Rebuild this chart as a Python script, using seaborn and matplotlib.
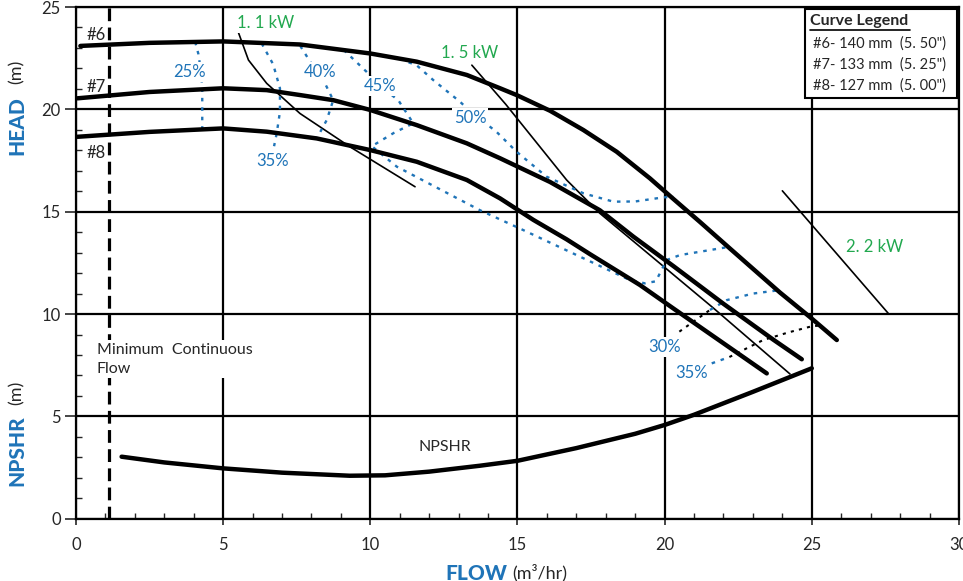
import pandas as pd
import matplotlib.pyplot as plt
import matplotlib.patches as mpatches
from matplotlib.ticker import MultipleLocator
import seaborn as sns

# Head curves (flow m3/hr, head m)
head6_x = [0.15, 2.5, 5.0, 7.61, 10.0, 11.58, 13.28, 14.41, 14.97, 16.11, 17.24, 18.37, 19.5, 20.3, 21.2, 22.22, 23.92, 24.94, 25.85]
head6_y = [23.10, 23.25, 23.32, 23.17, 22.73, 22.33, 21.68, 21.03, 20.7, 19.93, 18.99, 17.93, 16.63, 15.62, 14.5, 13.2, 11.05, 9.85, 8.73]
head7_x = [0.05, 2.5, 5.0, 6.48, 7.61, 8.74, 10.0, 11.58, 13.28, 14.41, 16.11, 17.8, 18.94, 20.3, 22.0, 23.69, 24.66]
head7_y = [20.54, 20.85, 21.03, 20.94, 20.7, 20.45, 19.97, 19.23, 18.34, 17.61, 16.45, 15.07, 13.78, 12.34, 10.5, 8.75, 7.79]
head8_x = [0.05, 2.5, 5.0, 6.48, 8.18, 10.0, 11.58, 13.28, 14.41, 15.54, 16.67, 17.47, 19.16, 20.3, 22.0, 23.47]
head8_y = [18.66, 18.9, 19.07, 18.91, 18.58, 18.01, 17.44, 16.55, 15.65, 14.6, 13.65, 12.92, 11.42, 10.27, 8.57, 7.1]

npshr_x = [1.55, 3.0, 5.0, 7.0, 9.3, 10.5, 12.0, 13.73, 15.0, 17.0, 19.0, 20.0, 21.0, 23.0, 25.0]
npshr_y = [3.03, 2.75, 2.46, 2.25, 2.1, 2.12, 2.3, 2.59, 2.83, 3.45, 4.15, 4.58, 5.08, 6.2, 7.35]

# Power lines
kw11_x = [5.48, 5.86, 6.48, 7.61, 9.31, 11.52]
kw11_y = [23.91, 22.41, 21.27, 19.8, 18.17, 16.22]
kw15_x = [13.45, 14.6, 16.67, 17.8, 19.16, 21.65, 24.26]
kw15_y = [22.16, 20.25, 16.55, 14.92, 13.29, 10.3, 7.07]
kw22_x = [24.0, 27.6]
kw22_y = [16.02, 10.03]

# Efficiency curves
eff25_x = [4.05, 4.16, 4.25, 4.29, 4.29]
eff25_y = [23.3, 22.7, 21.8, 21.05, 19.0]
eff35_x = [6.31, 6.7, 6.93, 6.93, 6.82, 6.73]
eff35_y = [23.22, 22.2, 21.03, 19.88, 18.83, 18.2]
eff40_x = [7.62, 8.1, 8.46, 8.74, 8.52, 8.18]
eff40_y = [23.1, 22.0, 21.27, 20.45, 19.48, 18.58]
eff45_x = [9.1, 9.87, 10.33, 10.95, 11.46, 10.8, 10.05, 10.9, 13.73, 15.2, 17.13, 18.82, 19.33, 19.7, 19.95, 20.07, 20.52, 22.22]
eff45_y = [22.9, 21.84, 21.14, 20.45, 19.32, 18.85, 18.2, 17.2, 15.07, 14.1, 12.8, 11.66, 11.5, 11.6, 12.3, 12.64, 12.88, 13.29]
eff50_x = [11.3, 11.57, 12.14, 13.05, 13.4, 14.29, 14.97, 15.99, 17.24, 18.26, 19.0, 19.95, 20.3]
eff50_y = [22.3, 22.16, 21.43, 20.37, 19.9, 18.9, 17.93, 16.71, 15.9, 15.49, 15.5, 15.7, 15.73]
eff30r_x = [20.5, 21.0, 21.54, 22.11, 23.0, 23.92]
eff30r_y = [9.14, 9.65, 10.2, 10.68, 11.0, 11.17]
eff35r_x = [21.6, 22.2, 22.67, 23.35, 24.2, 24.94, 25.3]
eff35r_y = [7.59, 7.9, 8.24, 8.73, 9.1, 9.38, 9.45]

min_flow = 1.13

legend_lines = ['#6- 140 mm  (5. 50")', '#7- 133 mm  (5. 25")', '#8- 127 mm  (5. 00")']

blue = '#1f74b8'
green = '#22a84f'

sns.set_style("ticks")
plt.rcParams['font.family'] = ['Lato', 'DejaVu Sans']

fig = plt.figure(figsize=(9.63, 5.81), dpi=100)
ax = fig.add_axes([0.0789, 0.1072, 0.9169, 0.8807])


def long_df(curves):
    rows = []
    for name, xs, ys in curves:
        for i, (x, y) in enumerate(zip(xs, ys)):
            rows.append({'curve': name, 'order': i, 'flow': x, 'head': y})
    return pd.DataFrame(rows)


heads = long_df([('#6', head6_x, head6_y), ('#7', head7_x, head7_y),
                 ('#8', head8_x, head8_y), ('NPSHR', npshr_x, npshr_y)])
sns.lineplot(data=heads, x='flow', y='head', units='curve', estimator=None,
             sort=False, color='black', lw=3.2, ax=ax, legend=False,
             solid_capstyle='round', solid_joinstyle='round', zorder=4)

power = long_df([('1.1', kw11_x, kw11_y), ('1.5', kw15_x, kw15_y), ('2.2', kw22_x, kw22_y)])
sns.lineplot(data=power, x='flow', y='head', units='curve', estimator=None,
             sort=False, color='black', lw=1.2, ax=ax, legend=False, zorder=3)

dots = (0, (1.5, 2.5))
eff = long_df([('25', eff25_x, eff25_y), ('35', eff35_x, eff35_y), ('40', eff40_x, eff40_y),
               ('45', eff45_x, eff45_y), ('50', eff50_x, eff50_y),
               ('30r', eff30r_x[2:], eff30r_y[2:]), ('35r', eff35r_x[:2], eff35r_y[:2])])
sns.lineplot(data=eff, x='flow', y='head', units='curve', estimator=None,
             sort=False, color=blue, lw=1.7, ax=ax, legend=False, linestyle=dots, zorder=3)
eff_k = long_df([('30r', eff30r_x[:3], eff30r_y[:3]), ('35r', eff35r_x[1:], eff35r_y[1:])])
sns.lineplot(data=eff_k, x='flow', y='head', units='curve', estimator=None,
             sort=False, color='black', lw=1.5, ax=ax, legend=False, linestyle=dots, zorder=3)

ax.plot([min_flow, min_flow], [0, 25], color='black', lw=2.3, linestyle=(0, (4, 2)), zorder=4)

# axes, grid, ticks
ax.set_xlim(0, 30)
ax.set_ylim(0, 25)
ax.xaxis.set_major_locator(MultipleLocator(5))
ax.yaxis.set_major_locator(MultipleLocator(5))
ax.xaxis.set_minor_locator(MultipleLocator(1))
ax.yaxis.set_minor_locator(MultipleLocator(1))
ax.grid(True, which='major', color='black', lw=1.6)
ax.set_axisbelow(True)
for s in ax.spines.values():
    s.set_color('black')
    s.set_linewidth(1.6)
ax.tick_params(axis='x', which='major', direction='out', length=4, width=1.2, pad=9, labelsize=12)
ax.tick_params(axis='y', which='major', direction='out', length=8, width=1.2, pad=3, labelsize=12)
ax.tick_params(which='minor', direction='in', length=4, width=1.0)
ax.set_xlabel('')
ax.set_ylabel('')

box = dict(facecolor='white', edgecolor='none', pad=1.5)

# curve labels
for txt, x, y in [('#6', 0.68, 23.63), ('#7', 0.68, 21.11), ('#8', 0.68, 17.86)]:
    ax.text(x, y, txt, fontsize=12, ha='center', va='center', zorder=6)

for txt, x, y in [('25%', 3.87, 21.82), ('35%', 6.68, 17.49), ('40%', 8.29, 21.84),
                  ('45%', 10.33, 21.14), ('50%', 13.39, 19.6), ('30%', 20.0, 8.38),
                  ('35%', 20.92, 7.1)]:
    ax.text(x, y, txt, fontsize=12, color=blue, ha='center', va='center', bbox=box, zorder=6)

for txt, x, y in [('1. 1 kW', 6.46, 24.22), ('1. 5 kW', 13.39, 22.75), ('2. 2 kW', 27.12, 13.28)]:
    ax.text(x, y, txt, fontsize=12, color=green, ha='center', va='center', bbox=box, zorder=6)

ax.text(0.71, 7.8, 'Minimum  Continuous\nFlow', fontsize=11.5, ha='left', va='center',
        linespacing=1.45, bbox=dict(facecolor='white', edgecolor='none', pad=2), zorder=6)
ax.text(12.54, 3.52, 'NPSHR', fontsize=11.5, ha='center', va='center', zorder=6)

# legend box
ax.add_patch(mpatches.Rectangle((24.77, 20.54), 5.17, 4.35, facecolor='white',
                                edgecolor='black', lw=1.5, zorder=7))
ax.text(24.94, 24.31, 'Curve Legend', fontsize=11.5, fontweight='bold', ha='left', va='center', zorder=8)
ax.plot([24.94, 28.34], [23.88, 23.88], color='black', lw=1.2, zorder=8)
for i, line in enumerate(legend_lines):
    ax.text(25.05, [23.22, 22.2, 21.14][i], line, fontsize=10.5, ha='left', va='center', zorder=8)

# axis titles
fig.text(17 / 963, 1 - 126 / 581, 'HEAD', rotation=90, color=blue, fontsize=15,
         fontweight='black', ha='center', va='center')
fig.text(17 / 963, 1 - 72 / 581, '(m)', rotation=90, fontsize=13, ha='center', va='center')
fig.text(17 / 963, 1 - 451 / 581, 'NPSHR', rotation=90, color=blue, fontsize=15,
         fontweight='black', ha='center', va='center')
fig.text(17 / 963, 1 - 393 / 581, '(m)', rotation=90, fontsize=13, ha='center', va='center')
fig.text(507 / 963, 1 - 573 / 581, 'FLOW', color=blue, fontsize=15, fontweight='black',
         ha='right', va='center')
fig.text(512 / 963, 1 - 573 / 581, '(m³/hr)', fontsize=13, ha='left', va='center')

fig.savefig('out.png', dpi=100)
